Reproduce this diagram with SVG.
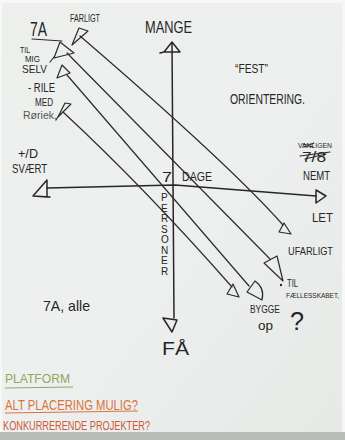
<svg xmlns="http://www.w3.org/2000/svg" width="345" height="440" viewBox="0 0 345 440">
<style>
.ink{fill:none;stroke:#2b2b2b;stroke-width:1.2;stroke-linecap:round;stroke-linejoin:round}
.axis{fill:none;stroke:#262626;stroke-width:1.5;stroke-linecap:round;stroke-linejoin:round}
.t{font-family:"Liberation Sans",Arial,sans-serif;fill:#262626}
</style>
<defs>
<linearGradient id="paper" x1="0" y1="0" x2="1" y2="1">
<stop offset="0" stop-color="#edefed"/>
<stop offset="0.5" stop-color="#eef0ef"/>
<stop offset="1" stop-color="#e6e9e6"/>
</linearGradient>
</defs>
<rect x="0" y="0" width="345" height="440" fill="#f6f7f6"/>
<rect x="2" y="3" width="340" height="429" fill="url(#paper)"/>
<rect x="0" y="432" width="345" height="8" fill="#b9bbb9"/>

<g id="axes">
<path class="axis" d="M172,44 L174,318"/>
<path class="axis" d="M172,42 L164,52 L180,52 Z M164,52 L160,53"/>
<path class="axis" d="M163,318 L177,320 L172,332 Z"/>
<path class="axis" d="M47,188 L175,185 Q230,189 316,196"/>
<path class="axis" d="M47,180 L47,197 L33,196 Z M33,196 L50,197"/>
<path class="axis" d="M316,190 L316,203 L326,196 Z"/>
</g>

<g id="connectors">
<path class="ink" d="M80,36 Q230,165 283,225"/>
<path class="ink" d="M79,28 L88,31 L72,45 Z"/>
<path class="ink" d="M284,223 L279,232 L291,234 Z"/>

<path class="ink" d="M67,53 L270,259"/>
<path class="ink" d="M60,42 L74,53 L54,58 Z M54,57 L50,62"/>
<path class="ink" d="M264,263 L277,256 L283,281 Z"/>

<path class="ink" d="M67,75 L249,286"/>
<path class="ink" d="M62,65 L70,73 L57,78 Z"/>
<path class="ink" d="M247,292 L255,281 Q265,288 262,300 Z"/>

<path class="ink" d="M63,112 Q145,188 232,287"/>
<path class="ink" d="M65,103 L71,104 L58,117 Z M59,115 L56,120"/>
<path class="ink" d="M233,284 L227,294 L239,297 Z"/>
</g>

<g id="labels-top-left">
<text class="t" x="70" y="22" font-size="10" textLength="30" lengthAdjust="spacingAndGlyphs">FARLIGT</text>
<text class="t" x="30" y="36" font-size="20" textLength="17" lengthAdjust="spacingAndGlyphs">7A</text>
<path class="ink" d="M32,39 L62,41"/>
<text class="t" x="20" y="53" font-size="9" textLength="10" lengthAdjust="spacingAndGlyphs">TIL</text>
<text class="t" x="25" y="62" font-size="9" textLength="15" lengthAdjust="spacingAndGlyphs">MIG</text>
<text class="t" x="22" y="73" font-size="10.5" textLength="25" lengthAdjust="spacingAndGlyphs">SELV</text>
<text class="t" x="28" y="92" font-size="12" textLength="27" lengthAdjust="spacingAndGlyphs">- RILE</text>
<text class="t" x="35" y="106" font-size="11" textLength="18" lengthAdjust="spacingAndGlyphs">MED</text>
<text class="t" x="23" y="119" font-size="11" textLength="34" lengthAdjust="spacingAndGlyphs" style="fill:#555">Røriek,</text>
</g>

<g id="label-mange">
<text class="t" x="145" y="33" font-size="17" textLength="47" lengthAdjust="spacingAndGlyphs">MANGE</text>
</g>

<g id="label-fest">
<text class="t" x="235" y="73" font-size="13" textLength="33" lengthAdjust="spacingAndGlyphs">“FEST”</text>
<text class="t" x="230" y="104" font-size="15" textLength="75" lengthAdjust="spacingAndGlyphs">ORIENTERING.</text>
</g>

<g id="label-svaert">
<text class="t" x="18" y="158" font-size="12" textLength="20" lengthAdjust="spacingAndGlyphs">+/D</text>
<text class="t" x="12" y="173" font-size="13" textLength="35" lengthAdjust="spacingAndGlyphs">SVÆRT</text>
</g>

<g id="label-nemt">
<text class="t" x="298" y="148" font-size="8" textLength="34" lengthAdjust="spacingAndGlyphs">VANLIGEN</text>
<path class="ink" d="M303,144 L313,147 M304,147 L314,143"/>
<text class="t" x="302" y="162" font-size="14" textLength="24" lengthAdjust="spacingAndGlyphs">7/8</text>
<path class="ink" d="M300,156 L330,152 M305,159 L326,154"/>
<text class="t" x="303" y="180" font-size="13" textLength="27" lengthAdjust="spacingAndGlyphs">NEMT</text>
<text class="t" x="312" y="222" font-size="12.5" textLength="21" lengthAdjust="spacingAndGlyphs">LET</text>
</g>

<g id="label-center">
<text class="t" x="162" y="182" font-size="14" textLength="10" lengthAdjust="spacingAndGlyphs">7</text>
<text class="t" x="182" y="181" font-size="12.5" textLength="30" lengthAdjust="spacingAndGlyphs">DAGE</text>
<g class="t" font-size="10">
<text class="t" x="161" y="201">P</text>
<text class="t" x="161" y="211.5">E</text>
<text class="t" x="161" y="222">R</text>
<text class="t" x="161" y="232.5">S</text>
<text class="t" x="161" y="243">O</text>
<text class="t" x="161" y="253.5">N</text>
<text class="t" x="161" y="264">E</text>
<text class="t" x="161" y="274.5">R</text>
</g>
</g>

<g id="labels-bottom-right">
<text class="t" x="288" y="255" font-size="11" textLength="45" lengthAdjust="spacingAndGlyphs">UFARLIGT</text>
<circle cx="281" cy="285" r="1.2" fill="#262626"/>
<text class="t" x="287" y="287" font-size="11" textLength="11" lengthAdjust="spacingAndGlyphs">TIL</text>
<text class="t" x="286" y="298" font-size="6.7" textLength="53" lengthAdjust="spacingAndGlyphs">FÆLLESSKABET,</text>
<text class="t" x="250" y="313" font-size="10.5" textLength="30" lengthAdjust="spacingAndGlyphs">BYGGE</text>
<text class="t" x="258" y="330" font-size="12" textLength="15" lengthAdjust="spacingAndGlyphs">op</text>
<text class="t" x="290" y="330" font-size="25" textLength="14" lengthAdjust="spacingAndGlyphs">?</text>
</g>

<g id="label-faa">
<text class="t" x="162" y="355" font-size="19" textLength="27" lengthAdjust="spacingAndGlyphs">FÅ</text>
</g>

<g id="label-ja-alle">
<text class="t" x="43" y="311" font-size="15" textLength="47" lengthAdjust="spacingAndGlyphs">7A, alle</text>
</g>

<g id="notes">
<text class="t" x="5" y="383" font-size="13" textLength="65" lengthAdjust="spacingAndGlyphs" style="fill:#93a65e">PLATFORM</text>
<path d="M5,388 L73,387" fill="none" stroke="#93a65e" stroke-width="1.1"/>
<text class="t" x="5" y="410" font-size="15" textLength="133" lengthAdjust="spacingAndGlyphs" style="fill:#d9743b">ALT PLACERING MULIG?</text>
<path d="M5,413 L138,411" fill="none" stroke="#d9743b" stroke-width="1.1"/>
<text class="t" x="3" y="430" font-size="13" textLength="147" lengthAdjust="spacingAndGlyphs" style="fill:#cc5a35">KONKURRERENDE PROJEKTER?</text>
</g>
</svg>
